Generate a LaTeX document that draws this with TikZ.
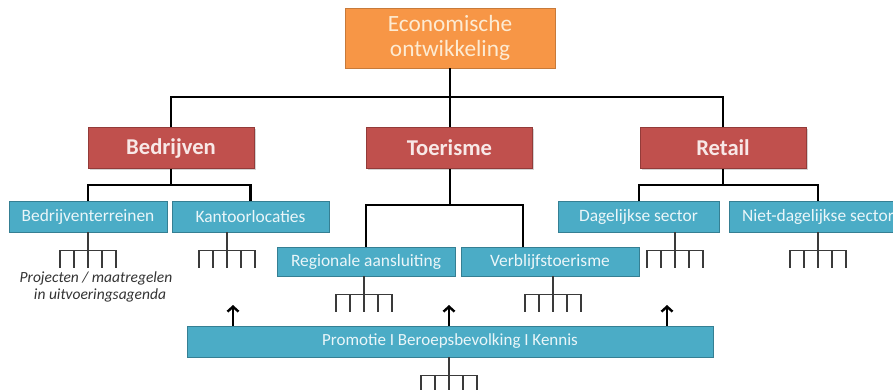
\documentclass[tikz,border=0pt]{standalone}
\usepackage{fontspec}
\setmainfont{Carlito}
\usetikzlibrary{arrows.meta,shadows}
\definecolor{orfill}{HTML}{F79646}
\definecolor{ordraw}{HTML}{C77A3A}
\definecolor{ortext}{HTML}{FDEBD3}
\definecolor{rdfill}{HTML}{C0504D}
\definecolor{rddraw}{HTML}{933B39}
\definecolor{rdtext}{HTML}{F8E8E7}
\definecolor{blfill}{HTML}{4BACC6}
\definecolor{bldraw}{HTML}{357F93}
\definecolor{bltext}{HTML}{EAF6F9}
\definecolor{rakecol}{HTML}{3A3A3A}
\tikzset{
  topbox/.style={rectangle, fill=orfill, draw=ordraw, line width=0.8pt, text=ortext,
    font=\fontsize{23.3}{25.5}\selectfont, align=center, minimum width=210pt, minimum height=60pt, inner sep=0pt},
  redbox/.style={rectangle, fill=rdfill, draw=rddraw, line width=0.8pt, text=rdtext,
    font=\fontsize{22.6}{25}\selectfont\bfseries, minimum width=166pt, minimum height=41pt, inner sep=0pt,
    drop shadow={shadow xshift=1.5pt, shadow yshift=-1.5pt, opacity=0.35}},
  bluebox/.style={rectangle, fill=blfill, draw=bldraw, line width=0.8pt, text=bltext,
    font=\fontsize{17.4}{20}\selectfont, minimum height=31pt, inner sep=0pt},
  conn/.style={line width=2.6pt, black},
  rakeline/.style={line width=1.3pt, rakecol},
  uparrow/.style={line width=2.4pt, black, -{Straight Barb[length=5pt,width=11pt,line width=2.4pt]}},
  rake/.pic={
    \draw[rakeline] (0,0) -- (0,18) (-28,18) -- (28,18);
    \foreach \dx in {-28,-14,0,14,28} \draw[rakeline] (\dx,18) -- (\dx,36);
  }
}
\begin{document}
\begin{tikzpicture}[x=1pt,y=-1pt]
\clip (0,0) rectangle (893,389);
\useasboundingbox (0,0) rectangle (893,389);

% top
\node[topbox] (eco) at (450,38) {Economische\\ontwikkeling};

% level 1
\node[redbox] (bedr) at (171,148) {Bedrijven};
\node[redbox] (toer) at (449.5,148) {Toerisme};
\node[redbox] (ret) at (723,148) {Retail};

% level 2
\node[bluebox, minimum width=158pt] (bt) at (88,216.5) {Bedrijventerreinen};
\node[bluebox, minimum width=157pt] (kl) at (250.5,216.5) {Kantoorlocaties};
\node[bluebox, minimum width=161pt] (dag) at (638.5,216.5) {Dagelijkse sector};
\node[bluebox, minimum width=178pt] (ndag) at (818,216.5) {Niet-dagelijkse sector};
\node[bluebox, minimum width=178pt, minimum height=29pt] (reg) at (366,261.5) {Regionale aansluiting};
\node[bluebox, minimum width=178pt, minimum height=29pt] (verb) at (550,261.5) {Verblijfstoerisme};
\node[bluebox, minimum width=526pt, font=\fontsize{17}{20}\selectfont] (prom) at (450,341.5) {Promotie I Beroepsbevolking I Kennis};

% connectors level 0 -> 1
\coordinate (j0) at (450,97);
\draw[conn] (eco.south -| j0) -- (toer.north -| j0);
\draw[conn] (bedr.north) |- (j0) -| (ret.north);

% level 1 -> 2
\coordinate (jb) at (171,185);
\coordinate (jr) at (723,185);
\coordinate (jt) at (450,205);
\draw[conn] (bedr.south) -- (jb);
\draw[conn] (bt.north) |- (jb) -| (kl.north);
\draw[conn] (ret.south) -- (jr);
\draw[conn] ([xshift=0.5pt]dag.north) |- (jr) -| (ndag.north);
\draw[conn] (toer.south -| jt) -- (jt);
\draw[conn] (reg.north) |- (jt) -| ([xshift=-27pt]verb.north);

% rakes
\pic at (bt.south) {rake};
\pic at ([xshift=-23.5pt]kl.south) {rake};
\pic at ([xshift=-2pt]reg.south) {rake};
\pic at ([xshift=3pt]verb.south) {rake};
\pic at ([xshift=36.5pt]dag.south) {rake};
\pic at (ndag.south) {rake};
\pic at ([xshift=-1pt]prom.south) {rake};

% note
\node[font=\fontsize{15.5}{17}\selectfont\itshape, text=black!80, align=center, anchor=north, inner sep=0pt] (note) at (96,272) {Projecten / maatregelen\\\hspace*{8pt}in uitvoeringsagenda};

% arrows
\coordinate (a1) at (233,305);
\coordinate (a2) at (449,305);
\coordinate (a3) at (667,305);
\draw[uparrow] (prom.north -| a1) -- (a1);
\draw[uparrow] (prom.north -| a2) -- (a2);
\draw[uparrow] (prom.north -| a3) -- (a3);
\end{tikzpicture}
\end{document}
